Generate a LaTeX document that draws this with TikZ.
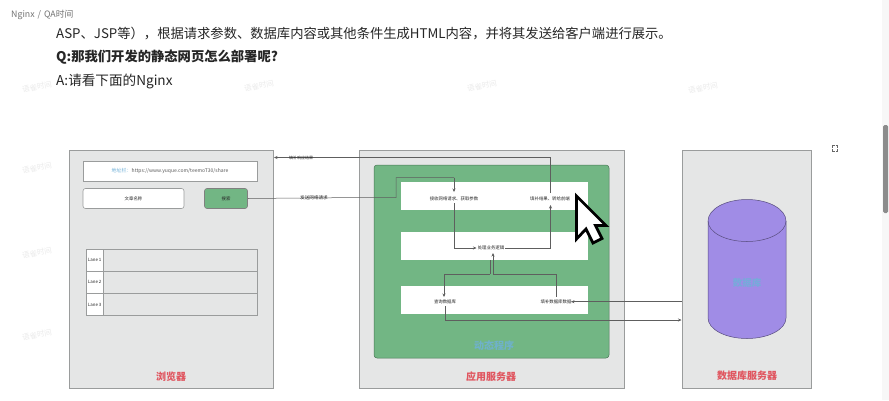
\documentclass[tikz,border=0pt]{standalone}
\usepackage{fontspec}
\setmainfont{Noto Sans CJK SC}
\usetikzlibrary{arrows.meta}
\definecolor{panel}{HTML}{E5E6E6}
\definecolor{panelline}{HTML}{9A9C9C}
\definecolor{appgreen}{HTML}{72B684}
\definecolor{flow}{HTML}{5E5E5E}
\definecolor{redlabel}{HTML}{E0555F}
\definecolor{dbpurple}{HTML}{A08CE6}
\definecolor{bluelabel}{HTML}{6FB0D8}
\tikzset{
 panelbox/.style={draw=panelline,fill=panel,line width=.9pt},
 whitebox/.style={fill=white,draw=none},
 flowline/.style={draw=flow,line width=.5pt,-{Stealth[length=3.5pt,width=3pt]}},
 plainline/.style={draw=flow,line width=.5pt},
 tiny/.style={font=\fontsize{4.4}{5}\selectfont,text=black!85,inner sep=.5pt},
 redtitle/.style={font=\fontsize{10}{12}\selectfont\bfseries,text=redlabel},
 para/.style={text=black!85,anchor=west,inner sep=0pt},
 wm/.style={font=\fontsize{7.5}{8}\selectfont,text=black!8,rotate=12,inner sep=0pt},
}
\begin{document}
\begin{tikzpicture}[x=1pt,y=-1pt]
\useasboundingbox (0,0) rectangle (889,400);
\fill[white] (0,0) rectangle (889,400);
% watermarks
\foreach \i/\a/\b in {w1/37/87,w2/259/86,w3/482/86,w4/703/88,w5/37/168,w6/37/253,w7/37/335}{
 \node[wm] (\i) at (\a,\b) {语雀时间};}
% header text
\node[anchor=west,inner sep=0pt,font=\fontsize{8.8}{10}\selectfont,text=black!55] (crumb) at (11,14.5) {Nginx\,\,/\,\,QA时间};
\node[para,font=\fontsize{13.3}{16}\selectfont] (line1) at (56,33.7) {ASP、JSP等），根据请求参数、数据库内容或其他条件生成HTML内容，并将其发送给客户端进行展示。};
\node[para,font=\fontsize{13.3}{17}\selectfont\bfseries] (line2) at (56,57.5) {Q:那我们开发的静态网页怎么部署呢?};
\node[para,font=\fontsize{13.6}{17}\selectfont] (line3) at (56,81.7) {A:请看下面的Nginx};
% panels
\node[panelbox,minimum width=204pt,minimum height=238pt,inner sep=0pt] (browser) at (171,269) {};
\node[panelbox,minimum width=265pt,minimum height=238pt,inner sep=0pt] (appserver) at (491.5,269) {};
\node[panelbox,minimum width=129pt,minimum height=238pt,inner sep=0pt] (dbserver) at (747,269) {};
% browser contents
\node[draw=panelline,fill=white,line width=.6pt,minimum width=174pt,minimum height=20pt,inner sep=0pt,font=\fontsize{5}{6}\selectfont,text=black!65] (addr) at (170,171) {{\color{bluelabel}地址栏：}https://www.yuque.com/teemoT30/share};
\node[draw=panelline,fill=white,rounded corners=2.5pt,line width=.6pt,minimum width=101pt,minimum height=20pt,inner sep=0pt,tiny] (article) at (133.5,198.5) {文章名称};
\node[draw=black!50,fill=appgreen,rounded corners=2.5pt,line width=.6pt,minimum width=43pt,minimum height=20pt,inner sep=0pt,tiny] (search) at (226,198.5) {搜索};
\node[draw=panelline,line width=.7pt,minimum width=171pt,minimum height=22.3pt,inner sep=0pt] (row1) at (171.5,260) {};
\node[draw=panelline,line width=.7pt,minimum width=171pt,minimum height=22.3pt,inner sep=0pt] (row2) at (171.5,282.2) {};
\node[draw=panelline,line width=.7pt,minimum width=171pt,minimum height=22.3pt,inner sep=0pt] (row3) at (171.5,304.5) {};
\node[draw=panelline,fill=white,line width=.7pt,minimum width=17.5pt,minimum height=22.3pt,inner sep=0pt,tiny] (lane1) at (94.7,260) {Lane 1};
\node[draw=panelline,fill=white,line width=.7pt,minimum width=17.5pt,minimum height=22.3pt,inner sep=0pt,tiny] (lane2) at (94.7,282.2) {Lane 2};
\node[draw=panelline,fill=white,line width=.7pt,minimum width=17.5pt,minimum height=22.3pt,inner sep=0pt,tiny] (lane3) at (94.7,304.5) {Lane 3};
\node[redtitle] (tbrowser) at (171,377) {浏览器};
% app server contents
\node[fill=appgreen,draw=black!35!appgreen,rounded corners=3pt,line width=.5pt,minimum width=235pt,minimum height=193pt,inner sep=0pt] (appgroup) at (491.5,261.5) {};
\node[whitebox,minimum width=187pt,minimum height=28pt,inner sep=0pt] (bar1) at (494.5,196) {};
\node[whitebox,minimum width=187pt,minimum height=28pt,inner sep=0pt] (bar2) at (494.5,246) {};
\node[whitebox,minimum width=187pt,minimum height=28pt,inner sep=0pt] (bar3) at (494.5,300) {};
\node[font=\fontsize{10}{12}\selectfont\bfseries,text=bluelabel!85!appgreen,inner sep=0pt] (tapp) at (494,346) {动态程序};
\node[redtitle] (tserver) at (491,377) {应用服务器};
% step labels
\node[tiny] (recv) at (454,198.5) {接收网络请求、获取参数};
\node[tiny] (fill) at (550,198.5) {填补结果、转给前端};
\node[tiny] (logic) at (491,248) {处理业务逻辑};
\node[tiny] (query) at (445,301.5) {查询数据库};
\node[tiny] (dbdata) at (556,301.5) {填补数据库数据};
% database
\fill[dbpurple,draw=black!45!dbpurple,line width=.5pt] (708,221) -- (708,318)
 arc[start angle=180,end angle=360,x radius=39pt,y radius=20.5pt] -- (786,221)
 arc[start angle=0,end angle=180,x radius=39pt,y radius=21.5pt] -- cycle;
\draw[black!45!dbpurple,line width=.5pt] (708,221) arc[start angle=180,end angle=360,x radius=39pt,y radius=20.5pt];
\node[font=\fontsize{9.5}{11}\selectfont\bfseries,text=bluelabel!85!dbpurple,inner sep=0pt] (dbname) at (747,283) {数据库};
\node[redtitle] (tdb) at (747,376) {数据库服务器};
% coordinates
\coordinate (a1) at (550.5,157.5);
\coordinate (a2) at (550.5,205);
\coordinate (a3) at (550.5,248);
\coordinate (a4) at (550.5,193);
\coordinate (b1) at (396,177.5);
\coordinate (b2) at (396,197.5);
\coordinate (b3) at (454,177.5);
\coordinate (b4) at (454,192);
\coordinate (b5) at (454,203);
\coordinate (c1) at (454,248);
\coordinate (c2) at (476.5,248);
\coordinate (c3) at (505,248);
\coordinate (d1) at (493,274);
\coordinate (d2) at (493,253);
\coordinate (e1) at (490,260);
\coordinate (e2) at (490,274);
\coordinate (e3) at (444,274);
\coordinate (e4) at (444,297);
\coordinate (e5) at (556,274);
\coordinate (e6) at (556,297);
\coordinate (f0) at (445,306);
\coordinate (f1) at (445,320);
\coordinate (g1) at (681.5,320);
\coordinate (g0) at (681.5,301.7);
\coordinate (g2) at (571,301.7);
\coordinate (h0) at (274,157.5);
\coordinate (h1) at (358.5,197.5);
% connectors
\draw[flowline] (a4) -- (a1) -- (h0);
\draw[plainline] (search.east) -- (h1) -- (b2) -- (b1) -- (b3);
\draw[flowline] (b3) -- (b4);
\draw[flowline] (b5) -- (c1) -- (c2);
\draw[flowline] (c3) -- (a3) -- (a2);
\draw[flowline] (d1) -- (d2);
\draw[plainline] (e1) -- (e2);
\draw[flowline] (e2) -- (e3) -- (e4);
\draw[plainline] (d1) -- (e5) -- (e6);
\draw[flowline] (g0) -- (g2);
\draw[flowline] (f0) -- (f1) -- (g1);
% connector labels
\node[tiny,font=\fontsize{4}{5}\selectfont] (lresp) at (301,157.8) {填补响应结果};
\node[tiny,font=\fontsize{4.6}{5}\selectfont] (lreq) at (314,198) {发送网络请求};
% cursor
\draw[black,fill=white,line width=2.8pt,line join=miter] (576.5,196) -- (576.5,239) -- (586,229) -- (593,243) -- (602,238.5) -- (595.5,225.5) -- (606,225.5) -- cycle;
% expand icon
\draw[black!60,line width=.6pt] (832,148) -- (832,145.5) -- (834.5,145.5) (835.5,145.5) -- (837.5,145.5) -- (837.5,148) (837.5,149) -- (837.5,151.5) -- (835.5,151.5) (834.5,151.5) -- (832,151.5) -- (832,149);
% scrollbar
\fill[black!3] (882,0) rectangle (889,400);
\fill[black!45,rounded corners=1.5pt] (883,125) rectangle (888,213);
\end{tikzpicture}
\end{document}
